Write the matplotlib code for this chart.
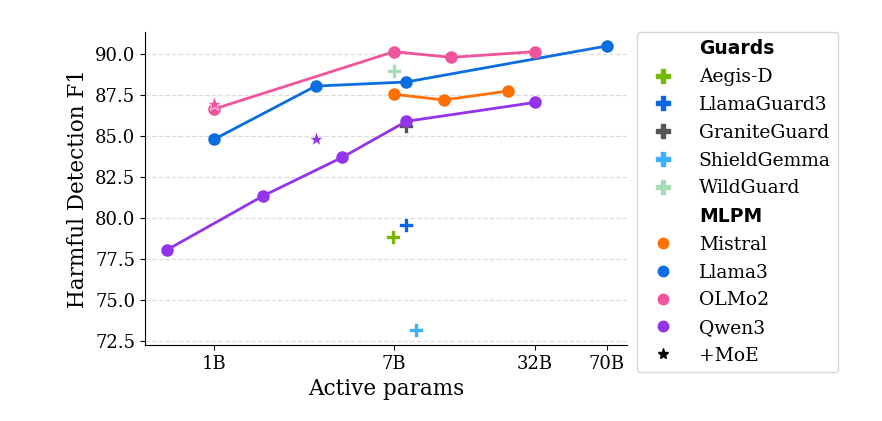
import matplotlib
matplotlib.use('Agg')
import matplotlib.pyplot as plt
from matplotlib.lines import Line2D

plt.rcParams['font.family'] = 'DejaVu Serif'

# active params (B) and harmful detection F1
mistral_x = [7, 12, 24]
mistral_y = [87.55, 87.2, 87.75]
llama_x = [1, 3, 8, 70]
llama_y = [84.8, 88.05, 88.3, 90.5]
olmo_x = [1, 7, 13, 32]
olmo_y = [86.65, 90.15, 89.8, 90.15]
qwen_x = [0.6, 1.7, 4, 8, 32]
qwen_y = [78.05, 81.35, 83.7, 85.9, 87.05]

# MoE variants
olmo_moe = (1, 86.95)
qwen_moe = (3, 84.8)

guard_names = ['Aegis-D', 'LlamaGuard3', 'GraniteGuard', 'ShieldGemma', 'WildGuard']
guard_x = [6.9, 8, 8, 8.9, 7]
guard_y = [78.85, 79.6, 85.6, 73.15, 88.95]
guard_colors = ['#76b900', '#0866e0', '#555555', '#3ab0ff', '#a6dcb8']

families = ['Mistral', 'Llama3', 'OLMo2', 'Qwen3']
fam_colors = ['#ff7000', '#0a6ee0', '#f0549c', '#9333ea']

fig = plt.figure(figsize=(8.82, 4.21), dpi=100)
ax = fig.add_axes([0.1644, 0.1805, 0.5466, 0.7435])

for gx, gy, c in zip(guard_x, guard_y, guard_colors):
    ax.plot(gx, gy, marker='P', color=c, markersize=10, linestyle='none',
            markeredgecolor='white', markeredgewidth=0.5, zorder=2)

for xs, ys, c in zip([mistral_x, llama_x, olmo_x, qwen_x],
                     [mistral_y, llama_y, olmo_y, qwen_y], fam_colors):
    ax.plot(xs, ys, '-o', color=c, lw=2, markersize=8, zorder=3)

ax.plot(*olmo_moe, marker='*', color=fam_colors[2], markersize=11,
        markeredgecolor='white', markeredgewidth=0.5, zorder=4)
ax.plot(*qwen_moe, marker='*', color=fam_colors[3], markersize=11,
        markeredgecolor='white', markeredgewidth=0.5, zorder=4)

ax.set_xscale('log')
ax.set_xlim(0.474, 87)
ax.set_ylim(72.25, 91.35)
ax.set_xticks([1, 7, 32, 70])
ax.set_xticklabels(['1B', '7B', '32B', '70B'])
ax.minorticks_off()
ax.set_yticks([72.5, 75, 77.5, 80, 82.5, 85, 87.5, 90])
ax.tick_params(labelsize=13)
ax.set_xlabel('Active params', fontsize=15.5)
ax.set_ylabel('Harmful Detection F1', fontsize=15.5)
ax.grid(axis='y', linestyle='--', color='#dddddd', lw=0.9)
ax.set_axisbelow(True)
ax.spines['top'].set_visible(False)
ax.spines['right'].set_visible(False)

# legend with section headers
blank = Line2D([], [], linestyle='none', marker=None)
handles = [blank]
labels = ['Guards']
for name, c in zip(guard_names, guard_colors):
    handles.append(Line2D([], [], marker='P', color=c, linestyle='none', markersize=10))
    labels.append(name)
handles.append(blank)
labels.append('MLPM')
for name, c in zip(families, fam_colors):
    handles.append(Line2D([], [], marker='o', color=c, linestyle='none', markersize=7.5))
    labels.append(name)
handles.append(Line2D([], [], marker='*', color='black', linestyle='none', markersize=8))
labels.append('+MoE')

leg = fig.legend(handles, labels, loc='upper left',
                 bbox_to_anchor=(637 / 882, 1 - 32 / 421), fontsize=13.5,
                 frameon=True, handletextpad=0.9, labelspacing=0.52,
                 borderpad=0.4, borderaxespad=0)
for t in leg.get_texts():
    if t.get_text() in ('Guards', 'MLPM'):
        t.set_fontfamily('DejaVu Sans')
        t.set_fontweight('bold')

fig.savefig('out.png', dpi=100)
